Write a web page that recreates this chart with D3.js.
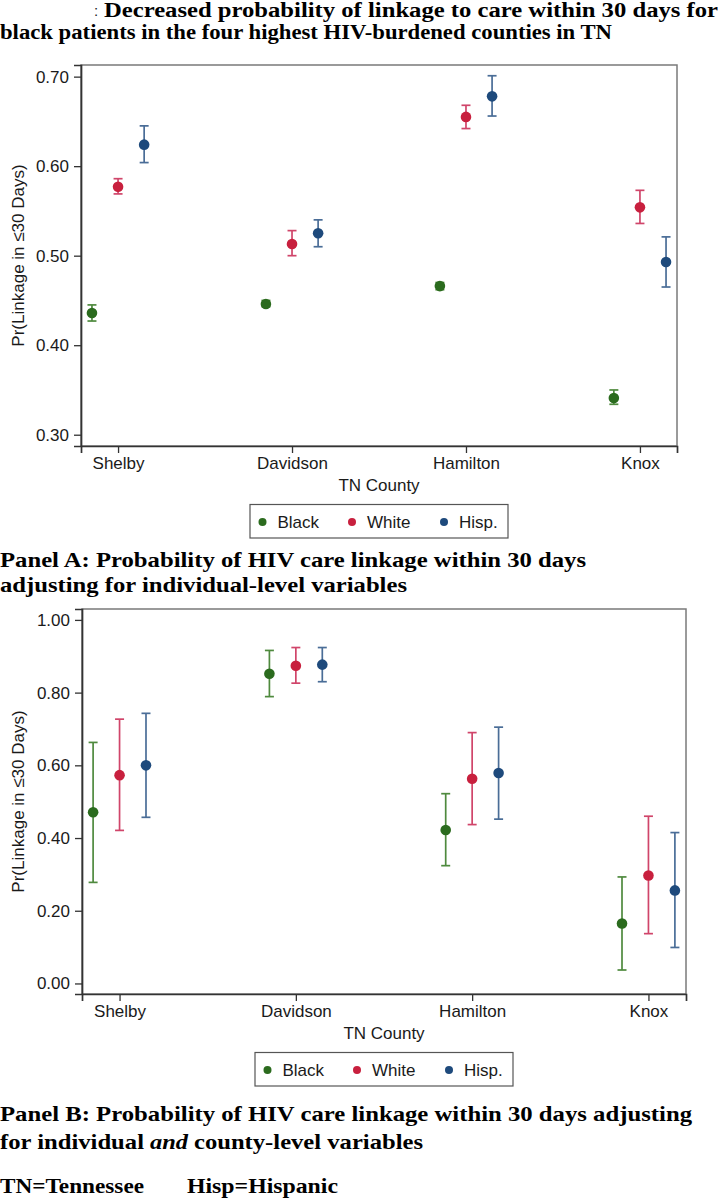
<!DOCTYPE html>
<html>
<head>
<meta charset="utf-8">
<script src="https://cdn.jsdelivr.net/npm/d3@7"></script>
<style>
  body { margin: 0; background: #fff; }
  text { font-family: "Liberation Sans", Arial, sans-serif; fill: #1a1a1a; }
  .cap { font-family: "Liberation Serif", "Times New Roman", serif; font-weight: bold; fill: #000; }
</style>
</head>
<body>
<div id="chart"></div>
<script>
// categories
let counties = ["Shelby", "Davidson", "Hamilton", "Knox"];
let groups = ["Black", "White", "Hisp."];
let offsets = [-0.15, 0, 0.15];
let dotColors = ["#2b6b1e", "#c8203e", "#1e4a7c"];
let barColors = ["#4f8a3e", "#d0456a", "#4a6d97"];

// panel A: individual-level adjustment
let aBlack = [0.436, 0.446, 0.466, 0.341];
let aBlackLo = [0.427, 0.443, 0.462, 0.334];
let aBlackHi = [0.445, 0.450, 0.470, 0.350];
let aWhite = [0.577, 0.513, 0.655, 0.554];
let aWhiteLo = [0.569, 0.500, 0.642, 0.536];
let aWhiteHi = [0.586, 0.528, 0.668, 0.573];
let aHisp = [0.624, 0.525, 0.678, 0.493];
let aHispLo = [0.604, 0.510, 0.656, 0.465];
let aHispHi = [0.645, 0.540, 0.701, 0.521];
let aTicks = [0.3, 0.4, 0.5, 0.6, 0.7];

// panel B: individual and county-level adjustment
let bBlack = [0.471, 0.852, 0.422, 0.165];
let bBlackLo = [0.278, 0.789, 0.324, 0.037];
let bBlackHi = [0.663, 0.916, 0.522, 0.293];
let bWhite = [0.573, 0.874, 0.563, 0.297];
let bWhiteLo = [0.421, 0.826, 0.437, 0.137];
let bWhiteHi = [0.727, 0.924, 0.690, 0.460];
let bHisp = [0.600, 0.877, 0.579, 0.256];
let bHispLo = [0.457, 0.830, 0.452, 0.099];
let bHispHi = [0.743, 0.924, 0.705, 0.415];
let bTicks = [0, 0.2, 0.4, 0.6, 0.8, 1.0];

let width = 718;
let height = 1203;

let svg = d3
  .select("#chart")
  .append("svg")
  .attr("width", width)
  .attr("height", height);

svg.append("rect").attr("width", width).attr("height", height).attr("fill", "#fff");

function rows(est, lo, hi) {
  return counties.map(function (c, i) {
    return { county: i + 1, est: est[i], lo: lo[i], hi: hi[i] };
  });
}

function drawPanel(p) {
  let xScale = d3.scaleLinear().domain([0.787, 4.213]).range([p.left, p.right]);
  let yScale = d3.scaleLinear().domain(p.yDomain).range([p.bottom, p.top]);
  let g = svg.append("g");

  // plot region outline
  g.append("rect")
    .attr("x", p.left)
    .attr("y", p.top)
    .attr("width", p.right - p.left)
    .attr("height", p.bottom - p.top)
    .attr("fill", "none")
    .attr("stroke", "#7a7a7a")
    .attr("stroke-width", 1.5);

  let xAxis = d3.axisBottom(xScale)
    .tickValues([1, 2, 3, 4])
    .tickFormat(function (d) { return counties[d - 1]; })
    .tickSize(7)
    .tickPadding(4);
  let yAxis = d3.axisLeft(yScale)
    .tickValues(p.ticks)
    .tickFormat(d3.format(".2f"))
    .tickSize(7)
    .tickPadding(5);

  let gx = g.append("g")
    .attr("transform", "translate(0," + p.bottom + ")")
    .call(xAxis);
  let gy = g.append("g")
    .attr("transform", "translate(" + p.left + ",0)")
    .call(yAxis);
  [gx, gy].forEach(function (ax) {
    ax.select(".domain").attr("stroke", "#333").attr("stroke-width", 1.7);
    ax.selectAll(".tick line").attr("stroke", "#333").attr("stroke-width", 1.3);
    ax.selectAll(".tick text")
      .attr("font-size", 17)
      .attr("font-family", "Liberation Sans, Arial, sans-serif")
      .attr("fill", "#1a1a1a");
  });

  // axis titles
  g.append("text")
    .attr("x", (p.left + p.right) / 2)
    .attr("y", p.bottom + 44.5)
    .attr("text-anchor", "middle")
    .attr("font-size", 17)
    .text("TN County");
  g.append("text")
    .attr("transform", "translate(24," + (p.top + p.bottom) / 2 + ")rotate(-90)")
    .attr("text-anchor", "middle")
    .attr("font-size", 17)
    .text("Pr(Linkage in \u226430 Days)");

  // error bars and points
  p.series.forEach(function (d, k) {
    let sg = g.append("g");
    sg.selectAll(".bar").data(d).enter().append("line")
      .attr("x1", function (r) { return xScale(r.county + offsets[k]); })
      .attr("x2", function (r) { return xScale(r.county + offsets[k]); })
      .attr("y1", function (r) { return yScale(r.lo); })
      .attr("y2", function (r) { return yScale(r.hi); })
      .attr("stroke", barColors[k])
      .attr("stroke-width", 1.7);
    ["lo", "hi"].forEach(function (end) {
      sg.selectAll(".cap" + end).data(d).enter().append("line")
        .attr("x1", function (r) { return xScale(r.county + offsets[k]) - 4.5; })
        .attr("x2", function (r) { return xScale(r.county + offsets[k]) + 4.5; })
        .attr("y1", function (r) { return yScale(r[end]); })
        .attr("y2", function (r) { return yScale(r[end]); })
        .attr("stroke", barColors[k])
        .attr("stroke-width", 1.7);
    });
    sg.selectAll("circle").data(d).enter().append("circle")
      .attr("cx", function (r) { return xScale(r.county + offsets[k]); })
      .attr("cy", function (r) { return yScale(r.est); })
      .attr("r", 5.3)
      .attr("fill", dotColors[k]);
  });

  // legend
  let boxW = 258;
  let boxL = (p.left + p.right) / 2 - boxW / 2;
  let boxT = p.bottom + 58.5;
  let lg = g.append("g").attr("transform", "translate(" + boxL + "," + boxT + ")");
  lg.append("rect")
    .attr("width", boxW)
    .attr("height", 33.5)
    .attr("fill", "#fff")
    .attr("stroke", "#555")
    .attr("stroke-width", 1.2);
  let itemX = [12.5, 102, 194];
  groups.forEach(function (name, k) {
    lg.append("circle")
      .attr("cx", itemX[k])
      .attr("cy", 17.5)
      .attr("r", 4)
      .attr("fill", dotColors[k]);
    lg.append("text")
      .attr("x", itemX[k] + 15)
      .attr("y", 23.5)
      .attr("font-size", 17)
      .text(name);
  });
}

drawPanel({
  left: 81, right: 677, top: 65, bottom: 446,
  yDomain: [0.2874, 0.713], ticks: aTicks,
  series: [rows(aBlack, aBlackLo, aBlackHi), rows(aWhite, aWhiteLo, aWhiteHi), rows(aHisp, aHispLo, aHispHi)]
});

drawPanel({
  left: 82, right: 686, top: 609, bottom: 994,
  yDomain: [-0.029, 1.030], ticks: bTicks,
  series: [rows(bBlack, bBlackLo, bBlackHi), rows(bWhite, bWhiteLo, bWhiteHi), rows(bHisp, bHispLo, bHispHi)]
});

// captions: bold serif, stretched to the widths in the figure
function caption(str, x, y, size, len, italic) {
  let t = svg.append("text")
    .attr("class", "cap")
    .attr("x", x)
    .attr("y", y)
    .attr("font-size", size)
    .attr("textLength", len)
    .attr("lengthAdjust", "spacingAndGlyphs")
    .text(str);
  if (italic) t.attr("font-style", "italic");
  return t;
}

svg.append("text")
  .attr("x", 94)
  .attr("y", 16)
  .attr("font-size", 15)
  .attr("fill", "#c8c8c8")
  .text(":");

caption("Decreased probability of linkage to care within 30 days for", 104, 17, 20, 614);
caption("black patients in the four highest HIV-burdened counties in TN", 0, 39, 20, 612);

caption("Panel A: Probability of HIV care linkage within 30 days", 0, 567, 21.5, 586);
caption("adjusting for individual-level variables", 0, 592, 21.5, 407);

caption("Panel B: Probability of HIV care linkage within 30 days adjusting", 0, 1121, 21.5, 692);
caption("for individual", 0, 1149, 21.5, 144);
caption("and", 150, 1149, 21.5, 38, true);
caption("county-level variables", 194, 1149, 21.5, 229);

caption("TN=Tennessee", 0, 1193, 21.5, 144);
caption("Hisp=Hispanic", 187, 1193, 21.5, 151);
</script>
</body>
</html>
